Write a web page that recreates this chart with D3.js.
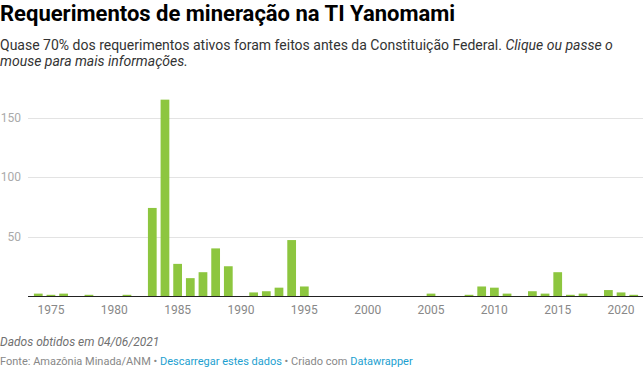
<!DOCTYPE html>
<html><head><meta charset="utf-8">
<script src="https://cdn.jsdelivr.net/npm/d3@7"></script>
<style>
body{margin:0;background:#fff;font-family:Roboto,"Noto Sans",sans-serif;}
svg{display:block}
</style></head><body>
<svg id="c" width="643" height="370"></svg>
<script>
const years = d3.range(1974, 2022);
const values = [2,1,2,0,1,0,0,1,0,74,165,27,15,20,40,25,0,3,4,7,47,8,
  0,0,0,0,0,0,0,0,0,2,0,0,1,8,7,2,0,4,2,20,1,2,0,5,3,1];
const yTicks = [50,100,150];
const xTicks = [1975,1980,1985,1990,1995,2000,2005,2010,2015,2020];
const title = "Requerimentos de mineração na TI Yanomami";
const subtitle1 = "Quase 70% dos requerimentos ativos foram feitos antes da Constituição Federal. ";
const subtitle1i = "Clique ou passe o";
const subtitle2i = "mouse para mais informações.";
const note = "Dados obtidos em 04/06/2021";

const svg = d3.select("#c");
svg.append("text").attr("x",0).attr("y",21).attr("font-size",22).attr("font-weight",700).attr("fill","#000").text(title);
const st = svg.append("text").attr("x",0).attr("y",50).attr("font-size",14).attr("fill","#333");
st.append("tspan").text(subtitle1);
st.append("tspan").attr("font-style","italic").text(subtitle1i);
svg.append("text").attr("x",0).attr("y",66).attr("font-size",14).attr("fill","#333").attr("font-style","italic").text(subtitle2i);

const x = d3.scaleBand().domain(years).range([32,640]).paddingInner(0.31).paddingOuter(0.15);
const y = d3.scaleLinear().domain([0,150]).range([296,117.5]);

const g = svg.append("g");
g.selectAll("line.grid").data(yTicks).join("line").attr("class","grid")
  .attr("x1",28).attr("x2",643).attr("y1",d=>Math.round(y(d))+0.5).attr("y2",d=>Math.round(y(d))+0.5)
  .attr("stroke","#e3e3e3").attr("stroke-width",1);
g.selectAll("text.yl").data(yTicks).join("text").attr("class","yl")
  .attr("x",21).attr("y",d=>y(d)).attr("dy","0.35em").attr("text-anchor","end")
  .attr("font-size",12).attr("fill","#aaa").text(d=>d);

g.selectAll("rect").data(years).join("rect")
  .attr("x",d=>x(d)).attr("width",x.bandwidth())
  .attr("y",(d,i)=>y(values[i])).attr("height",(d,i)=>y(0)-y(values[i]))
  .attr("fill","#8dc63f");

g.append("line").attr("x1",28).attr("x2",643).attr("y1",296.5).attr("y2",296.5).attr("stroke","#222").attr("stroke-width",1);

g.selectAll("text.xl").data(xTicks).join("text").attr("class","xl")
  .attr("x",d=>x(d)+x.bandwidth()/2).attr("y",314).attr("text-anchor","middle")
  .attr("font-size",12).attr("fill","#888").text(d=>d);

svg.append("text").attr("x",0).attr("y",346).attr("font-size",12).attr("font-style","italic").attr("fill","#707070").text(note);
const f = svg.append("text").attr("x",0).attr("y",365).attr("font-size",11).attr("fill","#888");
f.append("tspan").text("Fonte: Amazônia Minada/ANM • ");
f.append("tspan").attr("fill","#1d9fd0").text("Descarregar estes dados");
f.append("tspan").text(" • Criado com ");
f.append("tspan").attr("fill","#1d9fd0").text("Datawrapper");
</script></body></html>
